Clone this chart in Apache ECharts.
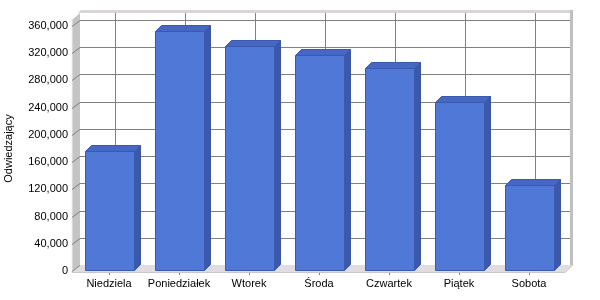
<!DOCTYPE html>
<html><head><meta charset="utf-8">
<script src="https://cdn.jsdelivr.net/npm/echarts@6/dist/echarts.min.js"></script>
<style>html,body{margin:0;padding:0;background:#fff}#c{width:600px;height:300px}</style>
</head><body><div id="c"></div>
<script>
var categories = ['Niedziela','Poniedziałek','Wtorek','Środa','Czwartek','Piątek','Sobota'];
var visitors = [176000, 352000, 330000, 317000, 298000, 248000, 126000];
var yTicks = [0,40000,80000,120000,160000,200000,240000,280000,320000,360000];

var chart = echarts.init(document.getElementById('c'), null, {renderer:'canvas'});
var FONT = 'Liberation Sans';
var WD = 6, WY = -6; // wall depth
var BD = 6, BY = -6; // bar depth

function renderFrame(params, api){
  var band = api.size([1,0])[0];
  var c0 = api.coord([0,0]);
  var c6 = api.coord([categories.length-1,0]);
  var xL = c0[0]-band/2, xR = c6[0]+band/2;
  var yB = c0[1];
  var yT = api.coord([0,360000])[1];
  var ch = [];
  var topBack = yT - 13;
  ch.push({type:'rect', shape:{x:xL+WD, y:topBack, width:xR-xL, height:yB+WY-topBack}, style:{fill:'#ffffff'}});
  ch.push({type:'polygon', shape:{points:[[xL+WD-2,topBack],[xL+WD+1,topBack-3],[xR+WD+3,topBack-3],[xR+WD,topBack]]}, style:{fill:'#d8d4d8'}});
  ch.push({type:'rect', shape:{x:xR+WD, y:topBack-3, width:3, height:yB+WY-topBack+3}, style:{fill:'#c0c0c0'}});
  ch.push({type:'polygon', shape:{points:[[xL-2,topBack+7],[xL+WD,topBack],[xL+WD,yB+WY],[xL-2,yB+1]]}, style:{fill:'#c4c4c4'}});
  ch.push({type:'line', shape:{x1:xL-2,y1:topBack+7,x2:xL-2,y2:yB+2}, style:{stroke:'#f0f0f0',lineWidth:1}});
  ch.push({type:'polygon', shape:{points:[[xL-2,yB+1],[xL+WD,yB+WY],[xR+WD+3,yB+WY],[xR+1,yB+1]]}, style:{fill:'#e0dce0'}});
  ch.push({type:'line', shape:{x1:xL-2,y1:yB+1.5,x2:xR+1,y2:yB+1.5}, style:{stroke:'#c8c8c8',lineWidth:1}});
  ch.push({type:'line', shape:{x1:xR+1,y1:yB+1.5,x2:xR+WD+3,y2:yB+WY}, style:{stroke:'#c8c8c8',lineWidth:1}});
  yTicks.forEach(function(t){
    var y = Math.round(api.coord([0,t])[1]) + 0.5;
    if (t > 0) ch.push({type:'line', shape:{x1:xL+WD,y1:y+WY,x2:xR+WD,y2:y+WY}, style:{stroke:'#808080',lineWidth:1}});
    ch.push({type:'line', shape:{x1:xL-2,y1:y,x2:xL+WD,y2:y+WY}, style:{stroke:'#808080',lineWidth:1}});
  });
  categories.forEach(function(cat,i){
    var x = Math.round(api.coord([i,0])[0]+WD)+0.5;
    ch.push({type:'line', shape:{x1:x,y1:topBack,x2:x,y2:yB+WY}, style:{stroke:'#808080',lineWidth:1}});
  });
  return {type:'group', children:ch};
}

function renderBar(params, api){
  var i = api.value(0), v = api.value(1);
  var band = api.size([1,0])[0];
  var w = Math.round(band*0.7);
  var top = api.coord([i,v]);
  var base = api.coord([i,0]);
  var x = Math.round(top[0]-w/2)+0.5, y = Math.round(top[1])+0.5, yb = Math.round(base[1])-0.5;
  return {type:'group', children:[
    {type:'polygon', shape:{points:[[x+w,y],[x+w+BD,y+BY],[x+w+BD,yb+BY],[x+w,yb]]}, style:{fill:'#3c58a8',stroke:'#3a56a4',lineWidth:1}},
    {type:'polygon', shape:{points:[[x,y],[x+BD,y+BY],[x+w+BD,y+BY],[x+w,y]]}, style:{fill:'#4668c4',stroke:'#3a5ab0',lineWidth:1}},
    {type:'rect', shape:{x:x,y:y,width:w,height:yb-y}, style:{fill:'#5078d6',stroke:'#3a5ab0',lineWidth:1}}
  ]};
}

chart.setOption({
  animation:false,
  backgroundColor:'#ffffff',
  grid:{left:74, width:490, top:26, height:245, containLabel:false, outerBoundsMode:'none'},
  xAxis:{type:'category', data:categories,
    axisLine:{show:false},
    axisTick:{show:true, alignWithLabel:true, interval:0, length:4, lineStyle:{color:'#808080'}},
    axisLabel:{color:'#000', fontFamily:FONT, fontSize:11, margin:7, interval:0}},
  yAxis:{type:'value', min:0, max:360000, interval:40000,
    name:'Odwiedzający', nameLocation:'middle', nameGap:60, nameRotate:90,
    nameTextStyle:{color:'#000', fontFamily:FONT, fontSize:11},
    axisLine:{show:false}, axisTick:{show:false}, splitLine:{show:false},
    axisLabel:{color:'#000', fontFamily:FONT, fontSize:11, margin:6,
      formatter:function(v){return v.toLocaleString('en-US');}}},
  series:[
    {type:'custom', name:'frame', data:[[0,0]], renderItem:renderFrame, z:1, silent:true},
    {type:'custom', name:'Odwiedzający', data:visitors.map(function(v,i){return [i,v];}),
     encode:{x:0,y:1}, renderItem:renderBar, z:2}
  ]
});
</script></body></html>
